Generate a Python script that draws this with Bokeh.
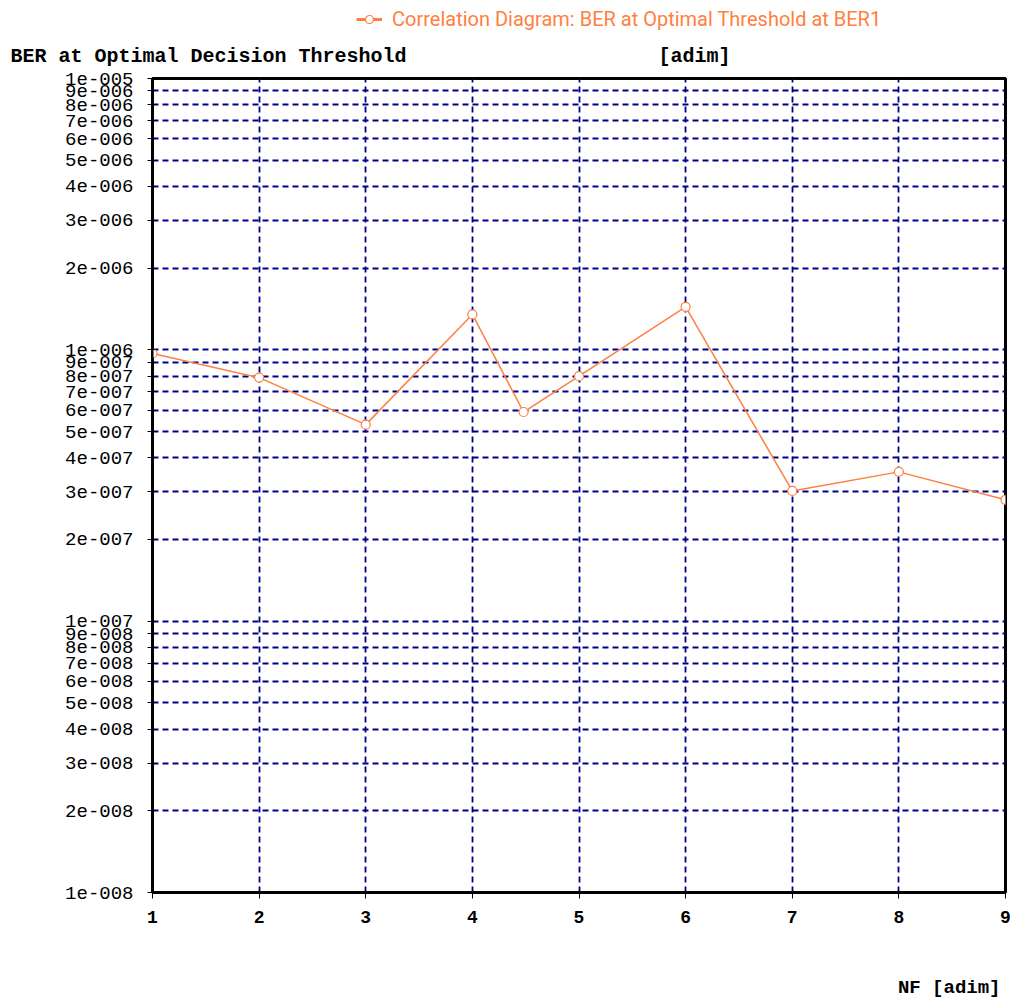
from bokeh.plotting import figure
from bokeh.layouts import column
from bokeh.models import (FixedTicker, CustomJSTickFormatter, Title, Legend, LegendItem,
                          Range1d, Label)
from bokeh.embed import file_html
from bokeh.resources import INLINE

# data
nf = [1, 2, 3, 4, 4.48, 5, 6, 7, 8, 9]
ber = [9.7e-7, 7.9e-7, 5.3e-7, 1.35e-6, 5.9e-7, 8.0e-7, 1.44e-6, 3.02e-7, 3.55e-7, 2.8e-7]
x_ticks = [1, 2, 3, 4, 5, 6, 7, 8, 9]
y_ticks = [m * 10.0 ** e for e in (-8, -7, -6) for m in range(1, 10)] + [1e-5]
title_text = "Correlation Diagram: BER at Optimal Threshold at BER1"
y_title = "BER at Optimal Decision Threshold"
y_unit = "[adim]"
x_title = "NF [adim]"

ORANGE = "#FF7F3F"
NAVY = "#00008B"
MONO = "Liberation Mono"

W = 1015
TOP_H = 32
FOOT_H = 63
BL, BR, BT, BB = 152, 10, 77 - TOP_H, 45
FH = 815
H = BT + FH + BB


def strip(height, x_range):
    f = figure(width=W, height=height, x_range=x_range, y_range=Range1d(0, 1),
               output_backend="svg", toolbar_location=None,
               x_axis_location=None, y_axis_location=None,
               min_border_left=0, min_border_right=0, min_border_top=0, min_border_bottom=0)
    f.outline_line_color = None
    f.xgrid.visible = False
    f.ygrid.visible = False
    return f


# ---- header strip: legend acting as the chart title ----
ph = strip(TOP_H, Range1d(-20, -10))   # data drawn only to feed the legend key
h_line = ph.line(nf, ber, line_color=ORANGE, line_width=3)
h_pts = ph.scatter(nf, ber, marker="circle", size=8, line_color=ORANGE, fill_color="white",
                   line_width=1.2)
legend = Legend(items=[LegendItem(label=title_text, renderers=[h_line, h_pts])],
                location=(204, 1), orientation="horizontal",
                label_text_color=ORANGE, label_text_font="Roboto",
                label_text_font_size="20px", border_line_color=None,
                background_fill_alpha=0, glyph_width=26, margin=0, padding=2,
                label_standoff=10)
ph.add_layout(legend, "center")

# ---- main chart ----
p = figure(width=W, height=H, y_axis_type="log",
           x_range=Range1d(1, 9), y_range=Range1d(1e-8, 1e-5),
           output_backend="svg", toolbar_location=None,
           min_border_left=BL, min_border_right=BR, min_border_top=BT, min_border_bottom=BB)
p.background_fill_color = "white"
p.border_fill_color = "white"
p.outline_line_color = "black"
p.outline_line_width = 3

p.line(nf, ber, line_color=ORANGE, line_width=1.5)
p.scatter(nf, ber, marker="circle", size=9, line_color=ORANGE, fill_color="white",
          line_width=1.2)

xa = p.xaxis[0]
xa.ticker = FixedTicker(ticks=x_ticks)
xa.minor_tick_line_color = None
xa.major_tick_out = 6
xa.major_tick_in = 0
xa.axis_line_width = 2
xa.major_label_text_font = MONO
xa.major_label_text_font_size = "18px"
xa.major_label_text_font_style = "bold"
xa.major_label_text_color = "black"
xa.major_label_text_align = "left"
xa.major_label_standoff = 12

ya = p.yaxis[0]
ya.ticker = FixedTicker(ticks=y_ticks)
ya.minor_tick_line_color = None
ya.major_tick_out = 5
ya.major_tick_in = 3
ya.axis_line_width = 2
ya.major_label_text_font = MONO
ya.major_label_text_font_size = "19px"
ya.major_label_text_color = "black"
ya.major_label_standoff = 14
ya.formatter = CustomJSTickFormatter(code="""
const e = Math.floor(Math.log10(tick) + 1e-9);
const m = Math.round(tick / Math.pow(10, e));
const s = String(Math.abs(e)).padStart(3, "0");
return m + "e" + (e < 0 ? "-" : "+") + s;
""")

for g in (p.xgrid[0], p.ygrid[0]):
    g.grid_line_color = NAVY
    g.grid_line_dash = "6 4"
    g.grid_line_width = 1.8

gap = "\u00a0" * 21
p.add_layout(Title(text=y_title + gap + y_unit, align="left", offset=10 - BL,
                   text_font=MONO, text_font_size="20px", text_font_style="bold",
                   text_color="black", standoff=21), "above")

# ---- footer strip: x axis title ----
pf = strip(FOOT_H, Range1d(1, 9))
pf.add_layout(Label(x=9, x_offset=-5, y=13, y_units="screen", text=x_title,
                    text_align="right", text_baseline="middle",
                    text_font=MONO, text_font_size="19px", text_font_style="bold",
                    text_color="black"))

layout = column(ph, p, pf, spacing=0)
open("out.html", "w").write(file_html(layout, INLINE))
